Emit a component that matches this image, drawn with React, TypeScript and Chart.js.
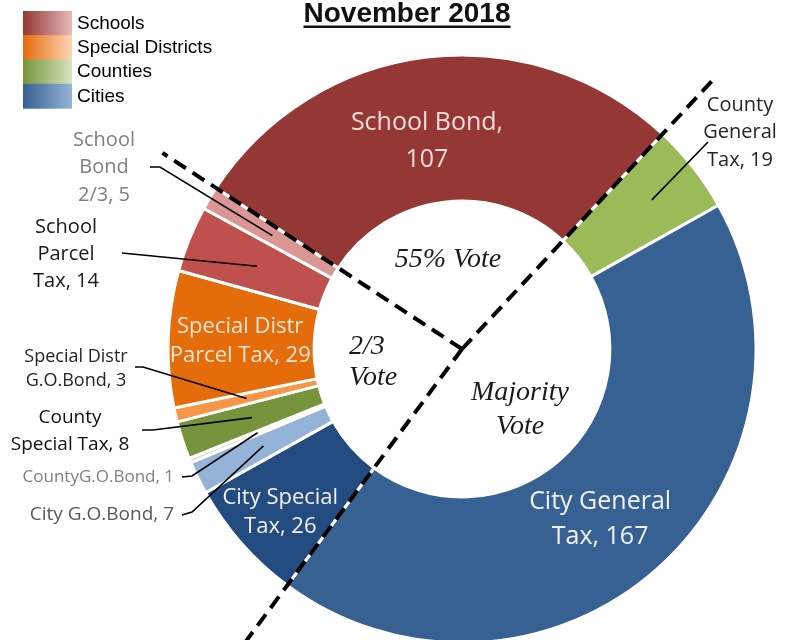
import React, { useEffect, useRef } from 'react';
import { Chart, registerables } from 'chart.js';

Chart.register(...registerables);

// ---------------- data ----------------
const categories = [
  'County General Tax',
  'City General Tax',
  'City Special Tax',
  'City G.O.Bond',
  'CountyG.O.Bond',
  'County Special Tax',
  'Special Distr G.O.Bond',
  'Special Distr Parcel Tax',
  'School Parcel Tax',
  'School Bond 2/3',
  'School Bond',
];
const measureCounts = [19, 167, 26, 7, 1, 8, 3, 29, 14, 5, 107];
// label text per slice ({v} is replaced by the value)
const sliceLabelLines = [
  ['County', 'General', 'Tax, {v}'],
  ['City General', 'Tax, {v}'],
  ['City Special', 'Tax, {v}'],
  ['City G.O.Bond, {v}'],
  ['CountyG.O.Bond, {v}'],
  ['County', 'Special Tax, {v}'],
  ['Special Distr', 'G.O.Bond, {v}'],
  ['Special Distr', 'Parcel Tax, {v}'],
  ['School', 'Parcel', 'Tax, {v}'],
  ['School', 'Bond', '2/3, {v}'],
  ['School Bond,', '{v}'],
];
const legendGroups = ['Schools', 'Special Districts', 'Counties', 'Cities'];
const titleText = 'November 2018';
const voteZoneTexts = [['55% Vote'], ['2/3', 'Vote'], ['Majority', 'Vote']];

// ---------------- styles / layout ----------------
const sliceColors = [
  '#9bbb59', '#386193', '#244b80', '#95b3d7', '#d7e4bd', '#77933c',
  '#f79646', '#e46c0a', '#c0504d', '#d99694', '#953735',
];
const legendGradients = [
  ['#953735', '#e6b9b8'],
  ['#e46c0a', '#fcd5b5'],
  ['#77933c', '#d7e4bd'],
  ['#376092', '#95b3d7'],
];

const CX = 462;
const CY = 349;
const R = 294;
const BW = 3;
const CANVAS_W = 791;
const CANVAS_H = 660;
const SIDE = 2 * R + BW;

type LabelStyle =
  | { mode: 'in'; dx: number; dy: number; size: number; lh: number; color: string }
  | {
      mode: 'out';
      x: number;
      y: number;
      align: CanvasTextAlign;
      size: number;
      lh: number;
      color: string;
      leader: number[][];
      frac: number;
    };

const labelStyles: LabelStyle[] = [
  { mode: 'out', x: 740, y: 105, align: 'center', size: 20, lh: 27.5, color: '#262626', leader: [[708, 142]], frac: 0.64 },
  { mode: 'in', dx: -8, dy: 5, size: 25, lh: 35, color: '#f2f2f2' },
  { mode: 'in', dx: -16, dy: 17, size: 22, lh: 29, color: '#f2f2f2' },
  { mode: 'out', x: 174, y: 515, align: 'right', size: 19, lh: 0, color: '#595959', leader: [[182, 515], [192, 512]], frac: 0.5 },
  { mode: 'out', x: 174, y: 477, align: 'right', size: 17, lh: 0, color: '#808080', leader: [[182, 477], [192, 476]], frac: 0.5 },
  { mode: 'out', x: 70, y: 418, align: 'center', size: 19, lh: 27, color: '#111111', leader: [[142, 430], [153, 430]], frac: 0.5 },
  { mode: 'out', x: 76, y: 357, align: 'center', size: 18, lh: 24, color: '#262626', leader: [[135, 367], [143, 367]], frac: 0.5 },
  { mode: 'in', dx: -1, dy: 0, size: 22, lh: 29, color: '#fbe5d6' },
  { mode: 'out', x: 66, y: 227, align: 'center', size: 20, lh: 27, color: '#1a1a1a', leader: [[122, 253]], frac: 0.5 },
  { mode: 'out', x: 104, y: 140, align: 'center', size: 20, lh: 27.5, color: '#7f7f7f', leader: [[150, 167], [160, 167]], frac: 0.5 },
  { mode: 'in', dx: -8.5, dy: 12, size: 25, lh: 37, color: '#f2dcdb' },
];

// dashed separators: index of slice whose start boundary is marked, and length
const dashedBoundaries = [
  { slice: 0, length: 372 },
  { slice: 2, length: 380 },
  { slice: 10, length: 358 },
];

const voteZoneStyles = [
  { x: 448, y: 260, align: 'center' as CanvasTextAlign, lh: 0 },
  { x: 349, y: 347, align: 'left' as CanvasTextAlign, lh: 31 },
  { x: 520, y: 393, align: 'center' as CanvasTextAlign, lh: 34 },
];

const LABEL_FONT = '"Open Sans", "Noto Sans", sans-serif';

function midPoint(arc: any, frac: number) {
  const p = arc.getProps(['x', 'y', 'startAngle', 'endAngle', 'innerRadius', 'outerRadius'], true);
  const a = (p.startAngle + p.endAngle) / 2;
  const r = p.innerRadius + frac * (p.outerRadius - p.innerRadius);
  return { x: p.x + r * Math.cos(a), y: p.y + r * Math.sin(a) };
}

const overlayPlugin = {
  id: 'overlay',
  afterDatasetsDraw(chart: any) {
    const ctx: CanvasRenderingContext2D = chart.ctx;
    const meta = chart.getDatasetMeta(0);
    ctx.save();

    // dashed separators
    ctx.setLineDash([14, 8]);
    ctx.lineWidth = 4;
    ctx.strokeStyle = '#000000';
    ctx.lineCap = 'butt';
    dashedBoundaries.forEach((b) => {
      const arc = meta.data[b.slice];
      const p = arc.getProps(['x', 'y', 'startAngle'], true);
      ctx.beginPath();
      ctx.moveTo(p.x, p.y);
      ctx.lineTo(p.x + b.length * Math.cos(p.startAngle), p.y + b.length * Math.sin(p.startAngle));
      ctx.stroke();
    });
    ctx.setLineDash([]);

    // slice labels
    measureCounts.forEach((v, i) => {
      const arc = meta.data[i];
      const st = labelStyles[i];
      const lines = sliceLabelLines[i].map((s) => s.replace('{v}', String(v)));
      ctx.font = `${st.size}px ${LABEL_FONT}`;
      ctx.fillStyle = st.color;
      ctx.textBaseline = 'middle';
      if (st.mode === 'in') {
        const c = midPoint(arc, 0.5);
        const bx = c.x + st.dx;
        const by = c.y + st.dy - ((lines.length - 1) * st.lh) / 2;
        ctx.textAlign = 'center';
        lines.forEach((t, k) => ctx.fillText(t, bx, by + k * st.lh));
      } else {
        ctx.textAlign = st.align;
        lines.forEach((t, k) => ctx.fillText(t, st.x, st.y + k * st.lh));
        const end = midPoint(arc, st.frac);
        ctx.beginPath();
        ctx.lineWidth = 1.6;
        ctx.strokeStyle = '#000000';
        st.leader.forEach((pt, k) => (k === 0 ? ctx.moveTo(pt[0], pt[1]) : ctx.lineTo(pt[0], pt[1])));
        ctx.lineTo(end.x, end.y);
        ctx.stroke();
      }
    });

    // vote zone texts
    ctx.font = 'italic 28px "Liberation Serif", "DejaVu Serif", serif';
    ctx.fillStyle = '#1a1a1a';
    ctx.textBaseline = 'middle';
    voteZoneTexts.forEach((lines, i) => {
      const s = voteZoneStyles[i];
      ctx.textAlign = s.align;
      lines.forEach((t, k) => ctx.fillText(t, s.x, s.y + k * s.lh));
    });

    // title
    ctx.font = 'bold 28px "Liberation Sans", Arial, sans-serif';
    ctx.fillStyle = '#111111';
    ctx.textAlign = 'center';
    ctx.textBaseline = 'alphabetic';
    const tx = 407;
    ctx.fillText(titleText, tx, 22);
    const tw = ctx.measureText(titleText).width;
    ctx.fillRect(tx - tw / 2, 25.5, tw, 2.5);

    // legend
    const lx = 23;
    const lw = 49;
    const ly = 11;
    const lhh = 24.3;
    legendGroups.forEach((name, i) => {
      const g = ctx.createLinearGradient(lx, 0, lx + lw, 0);
      g.addColorStop(0, legendGradients[i][0]);
      g.addColorStop(1, legendGradients[i][1]);
      ctx.fillStyle = g;
      ctx.fillRect(lx, ly + i * lhh, lw, lhh + 0.5);
      ctx.fillStyle = '#000000';
      ctx.font = '19px "Liberation Sans", Arial, sans-serif';
      ctx.textAlign = 'left';
      ctx.textBaseline = 'middle';
      ctx.fillText(name, 77, ly + i * lhh + lhh / 2 + 0.5);
    });

    ctx.restore();
  },
};

export default function App() {
  const ref = useRef<HTMLCanvasElement | null>(null);
  useEffect(() => {
    if (!ref.current) return;
    const left = CX - SIDE / 2;
    const top = CY - SIDE / 2;
    const chart = new Chart(ref.current, {
      type: 'doughnut',
      data: {
        labels: categories,
        datasets: [
          {
            data: measureCounts,
            backgroundColor: sliceColors,
            borderColor: '#ffffff',
            borderWidth: BW,
            hoverOffset: 0,
          },
        ],
      },
      options: {
        responsive: false,
        animation: false,
        events: [],
        rotation: 43,
        cutout: '50.3%',
        layout: {
          padding: {
            left,
            top,
            right: CANVAS_W - left - SIDE,
            bottom: CANVAS_H - top - SIDE,
          },
        },
        plugins: {
          legend: { display: false },
          title: { display: false },
          tooltip: { enabled: false },
        },
      },
      plugins: [overlayPlugin],
    } as any);
    return () => chart.destroy();
  }, []);

  return (
    <div
      style={{
        position: 'fixed',
        left: 0,
        top: 0,
        width: CANVAS_W,
        height: 640,
        overflow: 'hidden',
        background: '#ffffff',
      }}
    >
      <canvas ref={ref} width={CANVAS_W} height={CANVAS_H} style={{ display: 'block' }} />
    </div>
  );
}
